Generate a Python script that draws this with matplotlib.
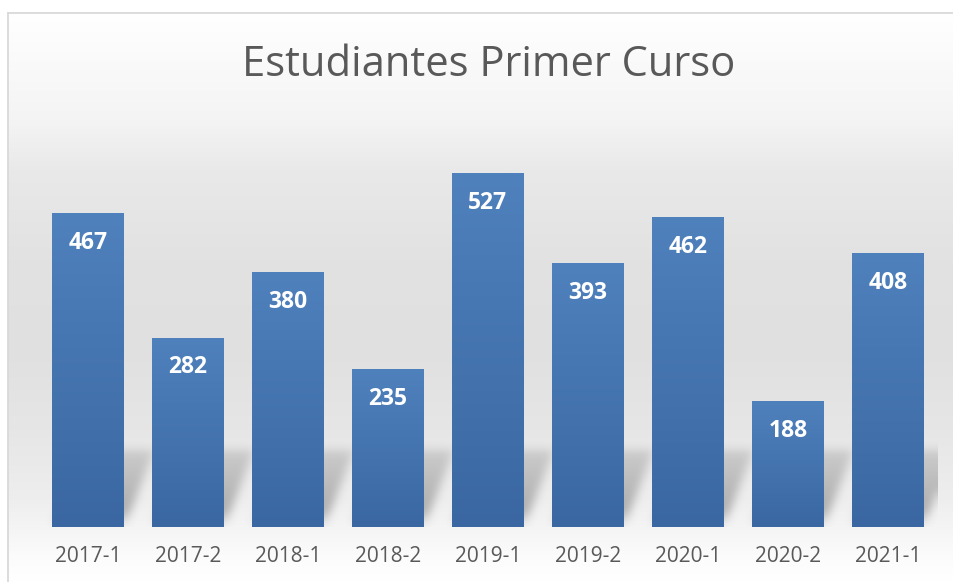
import numpy as np
import matplotlib
matplotlib.use('Agg')
import matplotlib.pyplot as plt
from matplotlib.colors import LinearSegmentedColormap

# Datos
periodos = ['2017-1', '2017-2', '2018-1', '2018-2', '2019-1',
            '2019-2', '2020-1', '2020-2', '2021-1']
estudiantes = [467, 282, 380, 235, 527, 393, 462, 188, 408]
titulo = 'Estudiantes Primer Curso'

W, H = 954, 582
plt.rcParams['font.family'] = ['Open Sans', 'DejaVu Sans']

fig = plt.figure(figsize=(W / 100, H / 100), dpi=100)
fig.patch.set_facecolor('white')


def box_blur(a, r, axis):
    # desenfoque de caja sencillo con cumsum
    pad = [(0, 0)] * a.ndim
    pad[axis] = (r + 1, r)
    p = np.pad(a, pad, mode='edge')
    c = np.cumsum(p, axis=axis)
    n = a.shape[axis]
    hi = np.take(c, np.arange(2 * r + 1, 2 * r + 1 + n), axis=axis)
    lo = np.take(c, np.arange(0, n), axis=axis)
    return (hi - lo) / (2 * r + 1)


# Fondo con degradado (blanco -> gris -> blanco)
bg = fig.add_axes([0, 0, 1, 1], zorder=0)
bg.set_xlim(0, W)
bg.set_ylim(H, 0)
bg.axis('off')
stops_y = [12, 120, 170, 260, 350, 430, 500, 530, 560, 582]
stops_v = [255, 244, 233, 226, 224, 230, 238, 245, 252, 255]
yy = np.arange(12, H + 1)
vals = np.interp(yy, stops_y, stops_v) / 255.0
grad = np.repeat(vals[:, None], 2, axis=1)
bg.imshow(np.dstack([grad] * 3), extent=[8, W + 5, H, 12], aspect='auto',
          interpolation='bilinear')
bg.plot([8.5, 8.5], [12.5, H], color='#d9d9d9', lw=1.3)
bg.plot([8.5, W], [12.5, 12.5], color='#d9d9d9', lw=1.3)
bg.text(489, 65, titulo, ha='center', va='center', fontsize=30,
        color='#595959')

# Area de trazado
ax = fig.add_axes([38 / W, 55 / H, 900 / W, 403 / H], zorder=1)
ax.patch.set_alpha(0)
x = np.arange(len(periodos))
ancho = 0.72
ax.set_xlim(-0.5, len(periodos) - 0.5)
ax.set_ylim(0, 600)

# Sombra en perspectiva detras de las barras
sh_h, sh_dx = 115, 0.3
gx = np.linspace(-0.5, len(periodos) - 0.5, 900)
gy = np.linspace(0, 180, 121)
XX, YY = np.meshgrid(gx, gy)
mask = np.zeros_like(XX)
t = YY / sh_h
perfil = np.clip(t / 0.2, 0, 1) * np.clip(1 - 0.6 * t, 0, 1)
for xi in x:
    left = xi - ancho / 2 + sh_dx * t
    right = xi + ancho / 2 + sh_dx * t
    inside = (XX >= left) & (XX <= right) & (YY <= sh_h)
    mask = np.maximum(mask, inside * perfil)
for _ in range(3):
    mask = box_blur(mask, 4, 0)
    mask = box_blur(mask, 4, 1)
rgba = np.zeros(mask.shape + (4,))
rgba[..., :3] = 0.45
rgba[..., 3] = mask * 0.6
ax.imshow(rgba, extent=[gx[0], gx[-1], gy[0], gy[-1]], origin='lower',
          aspect='auto', zorder=1, interpolation='bilinear')

# Barras con degradado vertical
bars = ax.bar(x, estudiantes, width=ancho, color='none', zorder=2)
cmap = LinearSegmentedColormap.from_list('azul', ['#3a67a1', '#4f81bd'])
for bar in bars:
    x0 = bar.get_x()
    h = bar.get_height()
    im = ax.imshow(np.linspace(0, 1, 256)[:, None], cmap=cmap,
                   extent=[x0, x0 + bar.get_width(), 0, h], origin='lower',
                   aspect='auto', zorder=2)
    im.set_clip_path(bar)
    ax.annotate(f'{int(h)}', (bar.get_x() + bar.get_width() / 2, h),
                xytext=(0, -21.5), textcoords='offset points',
                ha='center', va='center', fontsize=16.5, fontweight='bold',
                color='white', zorder=3)

ax.set_xlim(-0.5, len(periodos) - 0.5)
ax.set_ylim(0, 600)
ax.set_xticks(x)
ax.set_xticklabels(periodos, fontsize=15, color='#595959')
ax.tick_params(axis='x', length=0, pad=14)
ax.set_yticks([])
for s in ax.spines.values():
    s.set_visible(False)

fig.savefig('out.png', dpi=100)
